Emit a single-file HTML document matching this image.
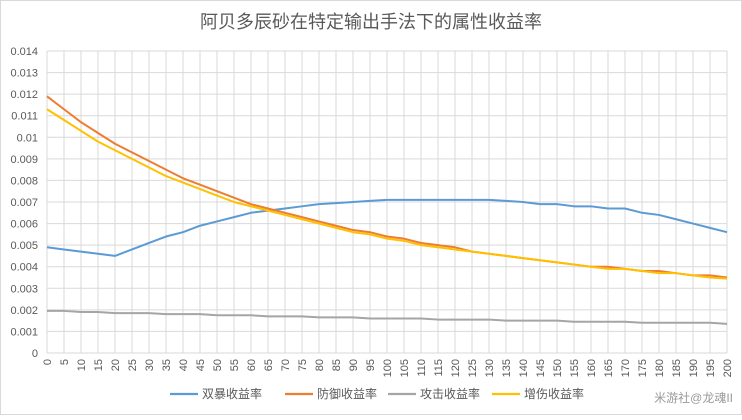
<!DOCTYPE html>
<html><head><meta charset="utf-8"><style>
body{margin:0;background:#fff;font-family:"Liberation Sans","Noto Sans CJK SC",sans-serif;}
svg text{font-family:"Liberation Sans","Noto Sans CJK SC",sans-serif;}
</style></head><body>
<svg id="chart" width="742" height="415">
<rect x="0.5" y="0.5" width="741" height="414" fill="#fff" stroke="#d9d9d9"/>
<text x="371" y="28" text-anchor="middle" font-size="18" fill="#595959">阿贝多辰砂在特定输出手法下的属性收益率</text>
<g id="grid"></g><g id="series"></g><g id="axes"></g>
<g id="legend"></g>
<text x="733" y="402" text-anchor="end" font-size="12" fill="#999">米游社@龙魂II</text>
</svg>
<script>
const categories=[];for(let i=0;i<=200;i+=5)categories.push(i);
const yTicks=[0,0.001,0.002,0.003,0.004,0.005,0.006,0.007,0.008,0.009,0.01,0.011,0.012,0.013,0.014];
const seriesNames=["双暴收益率","防御收益率","攻击收益率","增伤收益率"];
const colors=["#5b9bd5","#ed7d31","#a5a5a5","#ffc000"];
const critValues=[0.0049,0.0048,0.0047,0.0046,0.0045,0.0048,0.0051,0.0054,0.0056,0.0059,0.0061,0.0063,0.0065,0.0066,0.0067,0.0068,0.0069,0.00695,0.0070,0.00705,0.0071,0.0071,0.0071,0.0071,0.0071,0.0071,0.0071,0.00705,0.0070,0.0069,0.0069,0.0068,0.0068,0.0067,0.0067,0.0065,0.0064,0.0062,0.0060,0.0058,0.0056];
const defValues=[0.0119,0.0113,0.0107,0.0102,0.0097,0.0093,0.0089,0.0085,0.0081,0.0078,0.0075,0.0072,0.0069,0.0067,0.0065,0.0063,0.0061,0.0059,0.0057,0.0056,0.0054,0.0053,0.0051,0.0050,0.0049,0.0047,0.0046,0.0045,0.0044,0.0043,0.0042,0.0041,0.0040,0.0040,0.0039,0.0038,0.0038,0.0037,0.0036,0.0036,0.0035];
const atkValues=[0.00195,0.00195,0.0019,0.0019,0.00185,0.00185,0.00185,0.0018,0.0018,0.0018,0.00175,0.00175,0.00175,0.0017,0.0017,0.0017,0.00165,0.00165,0.00165,0.0016,0.0016,0.0016,0.0016,0.00155,0.00155,0.00155,0.00155,0.0015,0.0015,0.0015,0.0015,0.00145,0.00145,0.00145,0.00145,0.0014,0.0014,0.0014,0.0014,0.0014,0.00135];
const dmgValues=[0.0113,0.0108,0.0103,0.0098,0.0094,0.0090,0.0086,0.0082,0.0079,0.0076,0.0073,0.0070,0.0068,0.0066,0.0064,0.0062,0.0060,0.0058,0.0056,0.0055,0.0053,0.0052,0.0050,0.0049,0.0048,0.0047,0.0046,0.0045,0.0044,0.0043,0.0042,0.0041,0.0040,0.0039,0.0039,0.0038,0.0037,0.0037,0.0036,0.0035,0.00345];
const allSeries=[critValues,defValues,atkValues,dmgValues];
const L=47,R=727,T=51,B=353,NS="http://www.w3.org/2000/svg";
const xs=v=>L+(v-0)/200*(R-L);
const ys=v=>B-v/0.014*(B-T);
function mk(tag,attrs,parent){const e=document.createElementNS(NS,tag);for(const k in attrs)e.setAttribute(k,attrs[k]);parent.appendChild(e);return e;}
const grid=document.getElementById('grid'),axes=document.getElementById('axes'),ser=document.getElementById('series'),leg=document.getElementById('legend');
yTicks.forEach(t=>{const y=ys(t);
const l=mk('line',{x1:L,x2:R,y1:y,y2:y,stroke:'#d9d9d9','stroke-width':1},grid);


const tx=mk('text',{x:L-9,y:y+4,'text-anchor':'end','font-size':11,fill:'#595959'},axes);tx.textContent=String(t);

});
categories.forEach(c=>{const x=xs(c);
const l=mk('line',{x1:x,x2:x,y1:T,y2:B,stroke:'#d9d9d9','stroke-width':1},grid);


const tx=mk('text',{x:0,y:0,'text-anchor':'end','font-size':11,fill:'#595959',transform:`translate(${x+4},${B+6}) rotate(-90)`},axes);tx.textContent=String(c);

});
allSeries.forEach((vals,i)=>{const pts=vals.map((v,j)=>xs(categories[j])+','+ys(v)).join(' ');
const p=mk('polyline',{points:pts,fill:'none',stroke:colors[i],'stroke-width':2,'stroke-linejoin':'round'},ser);

});
const lx=[170,285,388,492];
seriesNames.forEach((n,i)=>{const g=mk('g',{},leg);


mk('line',{x1:lx[i],x2:lx[i]+28,y1:394,y2:394,stroke:colors[i],'stroke-width':2.2},g);
const t=mk('text',{x:lx[i]+32,y:398,'font-size':12,fill:'#595959'},g);t.textContent=n;});
</script>
</body></html>
